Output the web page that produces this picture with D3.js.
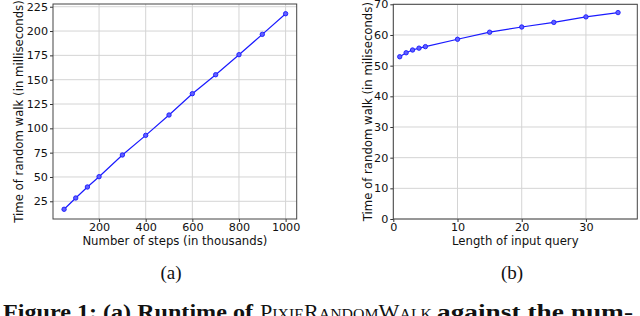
<!DOCTYPE html>
<html><head><meta charset="utf-8">
<script src="https://cdn.jsdelivr.net/npm/d3@7"></script>
<style>html,body{margin:0;padding:0;background:#fff;overflow:hidden}</style>
</head><body>
<svg id="c" width="640" height="316"></svg>
<script>
// Data
const stepsX = [50,100,150,200,300,400,500,600,700,800,900,1000];
const stepsY = [16.8,28.4,39.7,50.3,72.6,92.8,113.7,135.6,155.1,175.7,196.6,217.8];
const stepsXTicks = [200,400,600,800,1000];
const stepsYTicks = [25,50,75,100,125,150,175,200,225];

const queryX = [1,2,3,4,5,10,15,20,25,30,35];
const queryY = [52.9,54.2,55.1,55.7,56.2,58.6,60.9,62.6,64.1,65.9,67.3];
const queryXTicks = [0,10,20,30];
const queryYTicks = [0,10,20,30,40,50,60,70];

const svg = d3.select("#c");
const FONT = "DejaVu Sans";
const TICK_FS = 11.2, LABEL_FS = 11.7;

function panel(cfg){
  const g = svg.append("g");
  const x = d3.scaleLinear().domain(cfg.xd).range([cfg.l, cfg.r]);
  const y = d3.scaleLinear().domain(cfg.yd).range([cfg.b, cfg.t]);
  // grid
  g.selectAll(".gx").data(cfg.xt).join("line")
    .attr("x1",d=>x(d)).attr("x2",d=>x(d)).attr("y1",cfg.t).attr("y2",cfg.b)
    .attr("stroke","#d4d4d4").attr("stroke-width",1);
  g.selectAll(".gy").data(cfg.yt).join("line")
    .attr("y1",d=>y(d)).attr("y2",d=>y(d)).attr("x1",cfg.l).attr("x2",cfg.r)
    .attr("stroke","#d4d4d4").attr("stroke-width",1);
  // axes
  const fmt = d3.format("d");
  const xa = g.append("g").attr("transform",`translate(0,${cfg.b})`)
    .call(d3.axisBottom(x).tickValues(cfg.xt).tickFormat(fmt).tickSize(3).tickPadding(1.5).tickSizeOuter(0));
  const ya = g.append("g").attr("transform",`translate(${cfg.l},0)`)
    .call(d3.axisLeft(y).tickValues(cfg.yt).tickFormat(fmt).tickSize(3).tickPadding(2).tickSizeOuter(0));
  [xa,ya].forEach(a=>{
    a.select(".domain").remove();
    a.selectAll("line").attr("stroke","#333");
    a.selectAll("text").attr("font-family",FONT).attr("font-size",TICK_FS).attr("fill","#111");
  });
  // frame
  g.append("rect").attr("x",cfg.l).attr("y",cfg.t).attr("width",cfg.r-cfg.l).attr("height",cfg.b-cfg.t)
    .attr("fill","none").attr("stroke","#444").attr("stroke-width",1);
  // line
  const pts = cfg.xs.map((d,i)=>[d,cfg.ys[i]]);
  g.append("path").datum(pts)
    .attr("d",d3.line().x(d=>x(d[0])).y(d=>y(d[1])))
    .attr("fill","none").attr("stroke","#1a1aff").attr("stroke-width",1.2);
  g.selectAll(".pt").data(pts).join("circle")
    .attr("cx",d=>x(d[0])).attr("cy",d=>y(d[1])).attr("r",2.2)
    .attr("fill","#6060ff").attr("stroke","#1a1aff").attr("stroke-width",0.9);
  // labels
  g.append("text").attr("x",(cfg.l+cfg.r)/2).attr("y",244.5).attr("text-anchor","middle")
    .attr("font-family",FONT).attr("font-size",LABEL_FS).attr("fill","#111").text(cfg.xl);
  g.append("text").attr("transform",`translate(${cfg.yx},${(cfg.t+cfg.b)/2}) rotate(-90)`)
    .attr("text-anchor","middle").attr("dominant-baseline","central")
    .attr("font-family",FONT).attr("font-size",LABEL_FS).attr("fill","#111").text(cfg.yl);
  g.append("text").attr("x",cfg.cx).attr("y",279).attr("text-anchor","middle")
    .attr("font-family","Liberation Serif").attr("font-size",19).attr("fill","#111").text(cfg.cap);
}

panel({xd:[2.5,1047.5], yd:[6.8,227.8], l:53, r:296.7, t:4, b:219,
  xs:stepsX, ys:stepsY, xt:stepsXTicks, yt:stepsYTicks,
  xl:"Number of steps (in thousands)", yl:"Time of random walk (in milliseconds)", yx:19,
  cap:"(a)", cx:171});
panel({xd:[0,38], yd:[0,70], l:393.3, r:637.3, t:4.3, b:219,
  xs:queryX, ys:queryY, xt:queryXTicks, yt:queryYTicks,
  xl:"Length of input query", yl:"Time of random walk (in miliseconds)", yx:367.5,
  cap:"(b)", cx:512});

// Figure caption (cropped at bottom, as in the reference)
const cap = svg.append("g").attr("font-family","Liberation Serif").attr("fill","#111");
cap.append("text").attr("x",3).attr("y",319).attr("font-size",21).attr("font-weight","bold")
  .attr("textLength",250).attr("lengthAdjust","spacingAndGlyphs").text("Figure 1: (a) Runtime of");
const sc = cap.append("text").attr("x",260).attr("y",319).attr("textLength",172).attr("lengthAdjust","spacingAndGlyphs");
[["P",21],["IXIE",15],["R",21],["ANDOM",15],["W",21],["ALK",15]].forEach(([t,s])=>{
  sc.append("tspan").attr("font-size",s).text(t);
});
cap.append("text").attr("x",437).attr("y",319).attr("font-size",21).attr("font-weight","bold")
  .attr("textLength",196).attr("lengthAdjust","spacingAndGlyphs").text("against the num-");
</script>
</body></html>
